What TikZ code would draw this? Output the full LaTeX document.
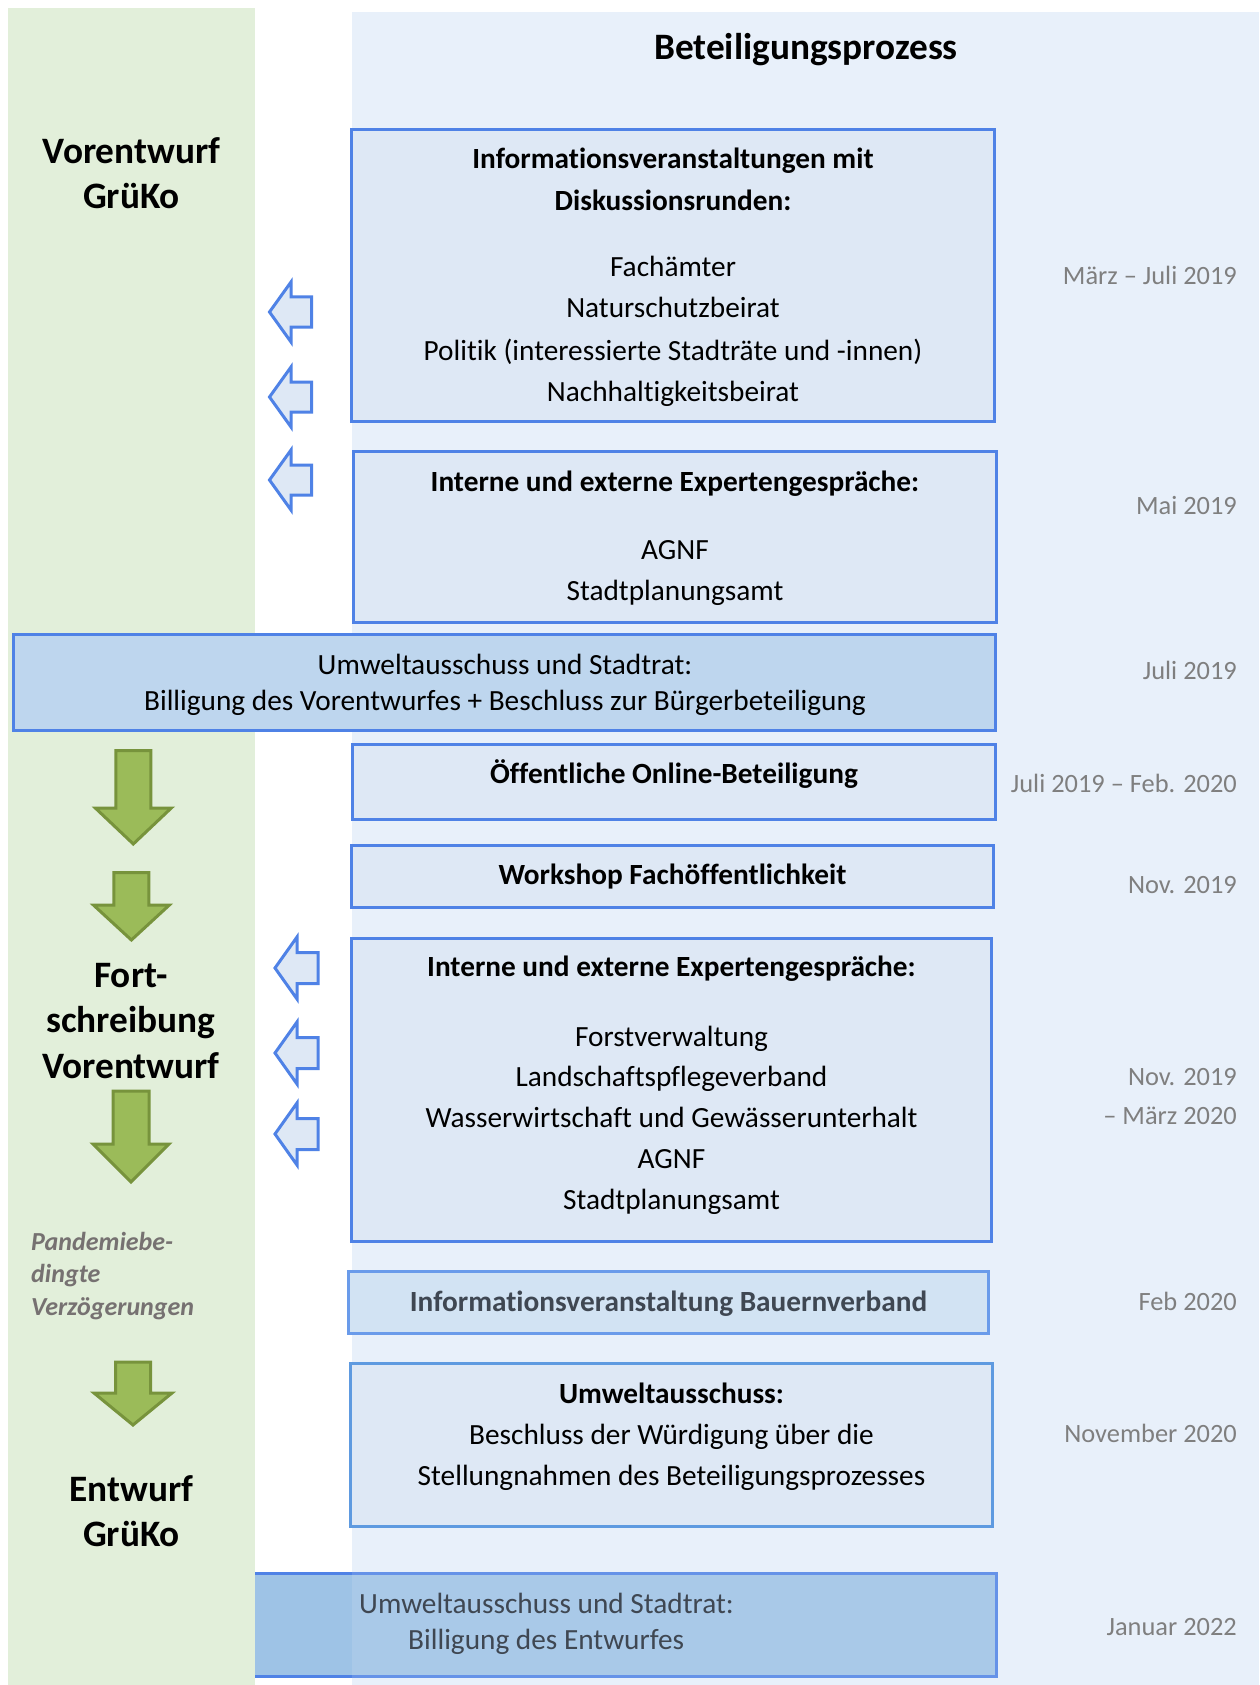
\documentclass[tikz,border=0pt]{standalone}
\usepackage{fontspec}
\setmainfont{Carlito}[Ligatures=NoCommon]
\definecolor{greencol}{HTML}{E2EFDA}
\definecolor{bluecol}{HTML}{E8F0FA}
\definecolor{boxfill}{HTML}{DEE8F5}
\definecolor{boxblue}{HTML}{4F82E6}
\definecolor{boxlight}{HTML}{6A9BEA}
\definecolor{boxsky}{HTML}{5E9AE0}
\definecolor{midfill}{HTML}{BED6EE}
\definecolor{bauerfill}{HTML}{D2E3F3}
\definecolor{endfill}{HTML}{9EC3E6}
\definecolor{arrgreen}{HTML}{9BBB59}
\definecolor{arrgreendark}{HTML}{77933C}
\definecolor{dategray}{HTML}{7F7F7F}
\definecolor{notegray}{HTML}{767171}
\definecolor{slatetext}{HTML}{3F4752}
\newcommand{\bluearr}[4]{\draw[bluearrow] (#1,#2) -- ++(#3,-#4) -- ++(0,#4/2) -- ++(#3-1,0) -- ++(0,#4) -- ++(-#3+1,0) -- ++(0,#4/2) -- cycle;}
\newcommand{\greenarr}[6]{\draw[greenarrow] (#1-#3,#2) -- (#1+#3,#2) -- (#1+#3,#4) -- (#1+#5,#4) -- (#1,#6) -- (#1-#5,#4) -- (#1-#3,#4) -- cycle;}
\begin{document}
\begin{tikzpicture}[x=1pt,y=-1pt,
  box/.style={draw=boxblue, line width=3.3pt, fill=boxfill, inner sep=0pt, rectangle},
  body/.style={font={\fontsize{29.3}{35}\selectfont}, anchor=base, inner sep=0pt},
  bodyb/.style={font={\fontsize{29.3}{35}\selectfont\bfseries}, anchor=base, inner sep=0pt},
  datelbl/.style={font={\fontsize{26.4}{32}\selectfont}, text=dategray, anchor=base east, inner sep=0pt},
  sidelbl/.style={font={\fontsize{37.3}{45}\selectfont\bfseries}, anchor=base, inner sep=0pt},
  notelbl/.style={font={\fontsize{26}{32}\selectfont\bfseries\itshape}, text=notegray, anchor=base west, inner sep=0pt},
  greenarrow/.style={fill=arrgreen, draw=arrgreendark, line width=3pt, line join=miter},
  bluearrow/.style={fill=boxfill, draw=boxblue, line width=3pt, line join=miter}]
\useasboundingbox (0,0) rectangle (1259,1685);
\fill[white] (0,0) rectangle (1259,1685);
% blue column
\fill[bluecol] (352,12) rectangle (1259,1685);
% final box (lies below the column tint)
\node[box, fill=endfill, minimum width=754.7pt, minimum height=102.7pt] (b9) at (619,1625) {};
\fill[bluecol, opacity=0.15] (352,1568) rectangle (1001,1682);
% green column
\fill[greencol] (8,8) rectangle (255,1685);
% title
\node[font={\fontsize{37.3}{45}\selectfont\bfseries}, anchor=base, inner sep=0pt] (title) at (806,60) {Beteiligungsprozess};
% boxes
\node[box, minimum width=642.7pt, minimum height=291.7pt] (b1) at (673,275.5) {};
\node[box, minimum width=642.7pt, minimum height=170.7pt] (b2) at (675,537) {};
\node[box, fill=midfill, minimum width=981.7pt, minimum height=95.7pt] (b3) at (504.5,682.5) {};
\node[box, minimum width=642.7pt, minimum height=74.7pt] (b4) at (674,782) {};
\node[box, minimum width=641.7pt, minimum height=61.7pt] (b5) at (672.5,876.5) {};
\node[box, minimum width=639.7pt, minimum height=302.7pt] (b6) at (671.5,1090) {};
\node[box, draw=boxlight, fill=bauerfill, minimum width=639.7pt, minimum height=61.7pt] (b7) at (668.5,1302.5) {};
\node[box, draw=boxsky, minimum width=641.7pt, minimum height=162.7pt] (b8) at (671.5,1445) {};
% box texts
\node[bodyb] (t1a) at (673,169) {Informationsveranstaltungen mit};
\node[bodyb] (t1b) at (673,211) {Diskussionsrunden:};
\node[body] (t1c) at (673,277) {Fachämter};
\node[body] (t1d) at (673,318) {Naturschutzbeirat};
\node[body] (t1e) at (673,360) {Politik (interessierte Stadträte und -innen)};
\node[body] (t1f) at (673,401) {Nachhaltigkeitsbeirat};
\node[bodyb] (t2a) at (675,491) {Interne und externe Expertengespräche:};
\node[body] (t2b) at (675,559) {AGNF};
\node[body] (t2c) at (675,600) {Stadtplanungsamt};
\node[body] (t3a) at (505,674) {Umweltausschuss und Stadtrat:};
\node[body] (t3b) at (505,710) {Billigung des Vorentwurfes + Beschluss zur Bürgerbeteiligung};
\node[bodyb] (t4) at (674,783) {Öffentliche Online-Beteiligung};
\node[bodyb] (t5) at (672.5,884) {Workshop Fachöffentlichkeit};
\node[bodyb] (t6a) at (671.5,976) {Interne und externe Expertengespräche:};
\node[body] (t6b) at (671.5,1046) {Forstverwaltung};
\node[body] (t6c) at (671.5,1086) {Landschaftspflegeverband};
\node[body] (t6d) at (671.5,1127) {Wasserwirtschaft und Gewässerunterhalt};
\node[body] (t6e) at (671.5,1168) {AGNF};
\node[body] (t6f) at (671.5,1209) {Stadtplanungsamt};
\node[bodyb, text=slatetext] (t7) at (668.5,1311) {Informationsveranstaltung Bauernverband};
\node[bodyb] (t8a) at (671.5,1403) {Umweltausschuss:};
\node[body] (t8b) at (671.5,1444) {Beschluss der Würdigung über die};
\node[body] (t8c) at (671.5,1485) {Stellungnahmen des Beteiligungsprozesses};
\node[body, anchor=base west, text=slatetext] (t9a) at (359,1613) {Umweltausschuss und Stadtrat:};
\node[body, anchor=base west, text=slatetext] (t9b) at (408,1649) {Billigung des Entwurfes};
% dates
\node[datelbl] (d1) at (1237,285) {März – Juli 2019};
\node[datelbl] (d2) at (1237,514) {Mai 2019};
\node[datelbl] (d3) at (1237,679) {Juli 2019};
\node[datelbl] (d4) at (1237,792) {Juli 2019 – Feb. 2020};
\node[datelbl] (d5) at (1237,893) {Nov. 2019};
\node[datelbl] (d6a) at (1237,1085) {Nov. 2019};
\node[datelbl] (d6b) at (1237,1124) {– März 2020};
\node[datelbl] (d7) at (1237,1310) {Feb 2020};
\node[datelbl] (d8) at (1237,1442) {November 2020};
\node[datelbl] (d9) at (1237,1635) {Januar 2022};
% side labels
\node[sidelbl] (s1a) at (131.5,164) {Vorentwurf};
\node[sidelbl] (s1b) at (131.5,209) {GrüKo};
\node[sidelbl] (s2a) at (131,987) {Fort-};
\node[sidelbl] (s2b) at (131,1032) {schreibung};
\node[sidelbl] (s2c) at (131,1078) {Vorentwurf};
\node[notelbl] (n1) at (31,1250) {Pandemiebe-};
\node[notelbl] (n2) at (31,1282) {dingte};
\node[notelbl] (n3) at (31,1315) {Verzögerungen};
\node[sidelbl] (s3a) at (131.5,1501) {Entwurf};
\node[sidelbl] (s3b) at (131.5,1546) {GrüKo};
% green arrows
\greenarr{133.3}{750.5}{17.5}{808}{38}{844}
\greenarr{131.4}{872.5}{17.5}{905}{38}{940}
\greenarr{131}{1091}{18}{1144}{38}{1182}
\greenarr{133}{1362}{17.5}{1393}{39}{1425}
% blue arrows
\bluearr{269.5}{312}{21.5}{30}
\bluearr{269.5}{397}{21.5}{30}
\bluearr{269.5}{480}{21.5}{30}
\bluearr{275}{968}{22}{31}
\bluearr{275}{1053}{22}{31}
\bluearr{275}{1134}{22}{31}
\end{tikzpicture}
\end{document}
